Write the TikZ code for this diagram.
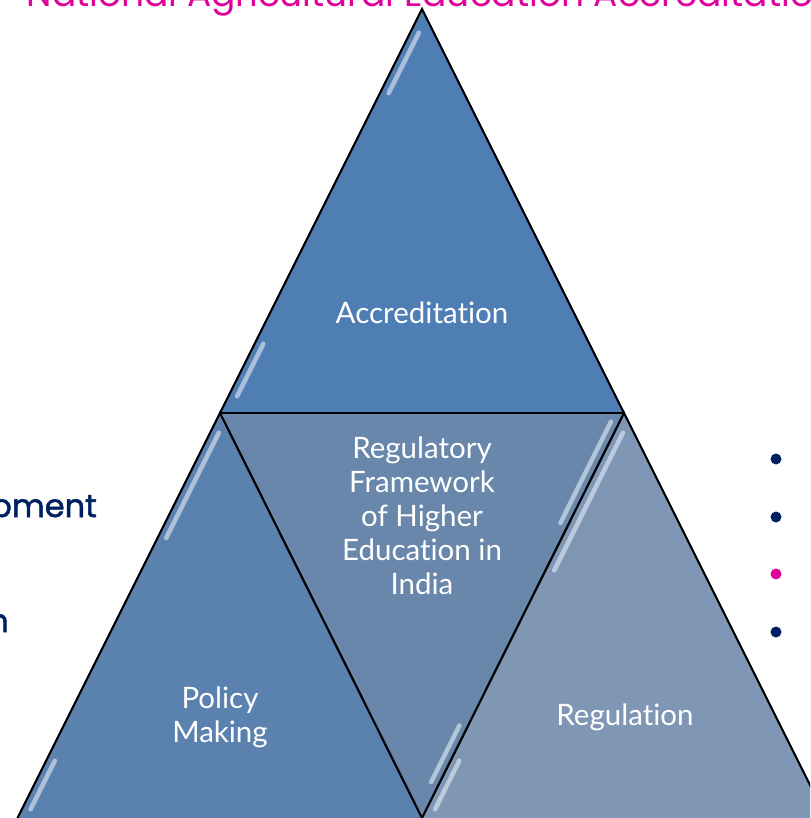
\documentclass[tikz,border=0pt]{standalone}
\usepackage{fontspec}
\setmainfont{Lato}[Ligatures={NoCommon,NoContextual}]
\newfontfamily\gothic{Poppins}
\newfontfamily\gothicbold{Poppins}[FakeBold=1.6]
\usetikzlibrary{calc}
\definecolor{topblue}{RGB}{79,126,180}
\definecolor{leftblue}{RGB}{91,130,175}
\definecolor{midblue}{RGB}{105,135,171}
\definecolor{rightblue}{RGB}{127,151,181}
\definecolor{navy}{RGB}{0,32,96}
\definecolor{slidepink}{RGB}{224,0,154}
\definecolor{shine}{RGB}{228,237,246}
\newcommand\streakseg[5]{%
  \draw[streakline] ($(#1)!#3!(#2)+(#5)$) -- ($(#1)!#4!(#2)+(#5)$);}
\begin{document}
\begin{tikzpicture}[x=1pt,y=-1pt,
  edge/.style={draw=black,line width=2.2pt,line join=miter,line cap=round},
  streakline/.style={draw=shine,line width=4.5pt,line cap=round,opacity=0.6},
  lbl/.style={text=white,font=\fontsize{29.5}{34}\selectfont,align=center,inner sep=0pt},
  side/.style={text=navy,font=\gothicbold\fontsize{32}{36}\selectfont,inner sep=0pt},
  bullet/.style={circle,inner sep=0pt,minimum size=11pt}]
\useasboundingbox (0,0) rectangle (810,818);
\clip (0,0) rectangle (810,818);
% corner points
\coordinate (A)  at (422,9);
\coordinate (TL) at (220,413);
\coordinate (TR) at (624,413);
\coordinate (BL) at (17.5,818);
\coordinate (BM) at (422,818);
\coordinate (BR) at (826.5,818);
% fills
\fill[topblue]   (A) -- (TL) -- (TR) -- cycle;
\fill[leftblue]  (TL) -- (BL) -- (BM) -- cycle;
\fill[midblue]   (TL) -- (TR) -- (BM) -- cycle;
\fill[rightblue] (TR) -- (BM) -- (BR) -- cycle;
% bevel highlights
\streakseg{A}{TL}{0.05}{0.20}{7,3.5}
\streakseg{A}{TL}{0.82}{0.95}{7,3.5}
\streakseg{TL}{BL}{0.04}{0.30}{7,3.5}
\streakseg{TL}{BL}{0.85}{0.97}{7,3.5}
\streakseg{TR}{BM}{0.04}{0.38}{7,3.5}
\streakseg{TR}{BM}{0.85}{0.97}{7,3.5}
\streakseg{TR}{BM}{0.03}{0.28}{-7,-3.5}
\streakseg{TR}{BM}{0.78}{0.92}{-7,-3.5}
% outlines
\draw[edge] (TL) -- (A) -- (TR);
\draw[edge] (TL) -- (TR);
\draw[edge] (BL) -- (TL) -- (BM) -- (TR) -- (BR);
% labels
\node[lbl] (acc) at (422,313) {Accreditation};
\node[lbl] (frm) at (422,516) {Regulatory\\Framework\\of Higher\\Education in\\India};
\node[lbl] (pol) at (220,717) {Policy\\Making};
\node[lbl] (reg) at (625,717) {Regulation};
% slide title and side text
\node[anchor=base west,text=slidepink,font=\gothic\fontsize{36}{40}\selectfont,inner sep=0pt]
  (title) at (187,7) {\llap{National\ }Agricultural Education Accreditation};
\node[side,anchor=base east] (dev) at (97,517) {Development};
\node[side,anchor=base east] (edu) at (9,632) {Education};
% bullets
\node[bullet,fill=navy] (b1) at (776,459) {};
\node[bullet,fill=navy] (b2) at (776,517) {};
\node[bullet,fill=slidepink] (b3) at (776,574) {};
\node[bullet,fill=navy] (b4) at (776,632) {};
\end{tikzpicture}
\end{document}
